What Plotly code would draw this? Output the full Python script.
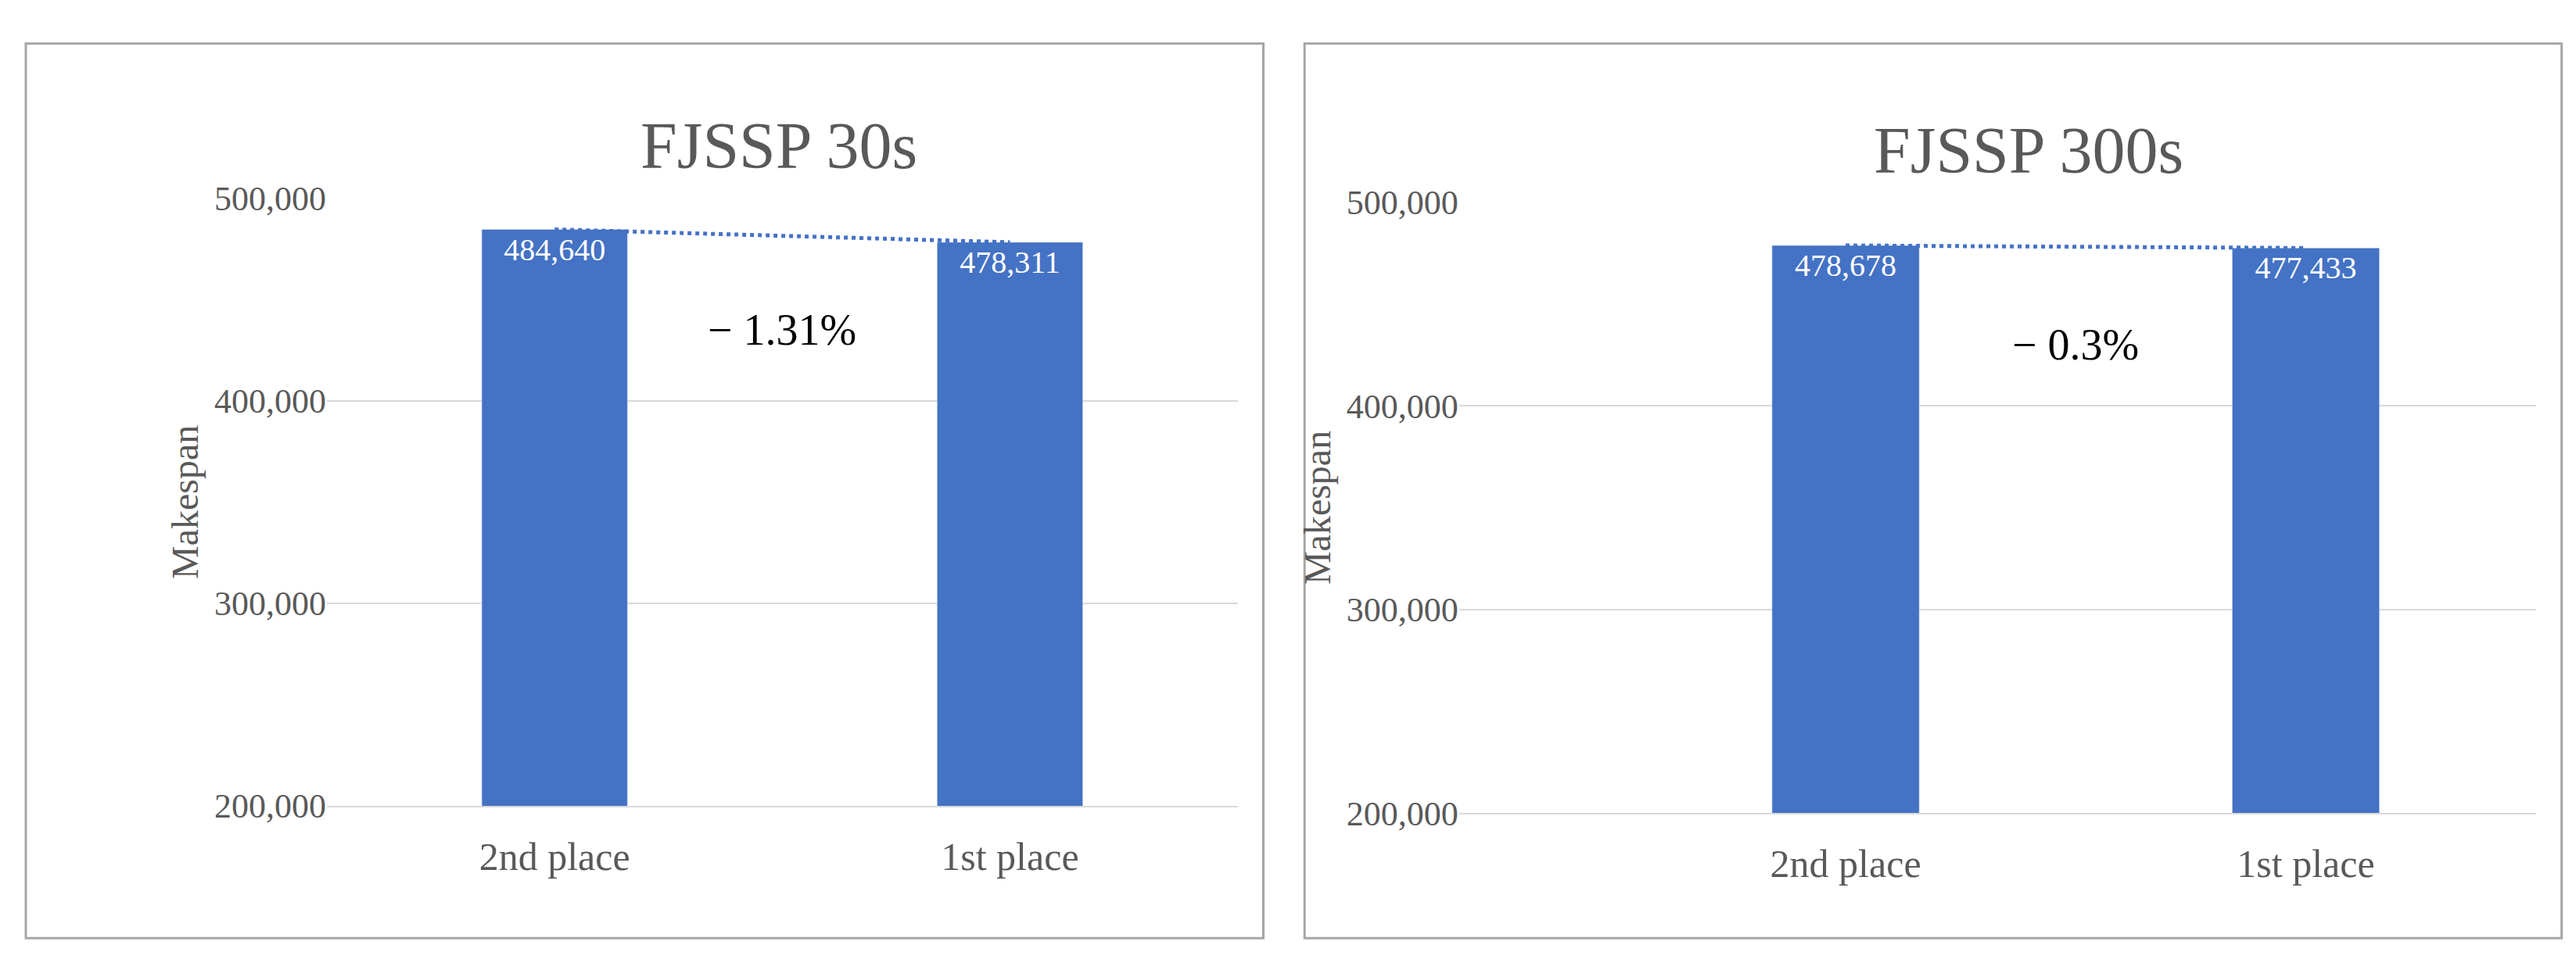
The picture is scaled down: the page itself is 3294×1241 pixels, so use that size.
import plotly.graph_objects as go
from plotly.subplots import make_subplots

categories = ["2nd place", "1st place"]
makespan_30s = [484640, 478311]
makespan_300s = [478678, 477433]
titles = ["FJSSP 30s", "FJSSP 300s"]
gaps = ["\u2212 1.31%", "\u2212 0.3%"]

serif = "Liberation Serif"
blue = "#4472C4"
grey = "#595959"

fig = make_subplots(rows=1, cols=2)

for i, vals in enumerate([makespan_30s, makespan_300s], start=1):
    fig.add_trace(go.Bar(
        x=categories, y=vals, marker_color=blue, width=0.32,
        text=[f"{v:,}" for v in vals], textposition="inside",
        insidetextanchor="end", textangle=0,
        textfont=dict(family=serif, size=40, color="white"),
        showlegend=False,
    ), row=1, col=i)
    fig.add_trace(go.Scatter(
        x=categories, y=vals, mode="lines",
        line=dict(color=blue, width=5, dash="dot"),
        showlegend=False,
    ), row=1, col=i)

fig.update_layout(
    width=3294, height=1241,
    margin=dict(l=0, r=0, t=0, b=0),
    paper_bgcolor="white", plot_bgcolor="white",
    font=dict(family=serif, color=grey),
    xaxis=dict(domain=[0.1245, 0.478], range=[-0.5, 1.5]),
    xaxis2=dict(domain=[0.564, 0.982], range=[-0.84, 1.5]),
    yaxis=dict(domain=[0.162, 0.814]),
    yaxis2=dict(domain=[0.154, 0.81]),
)
fig.update_xaxes(showgrid=False, showline=True, linecolor="#d9d9d9", linewidth=2,
                 tickfont=dict(family=serif, size=50, color=grey), ticks="", ticklabelstandoff=20)
fig.update_yaxes(range=[200000, 500000], tickvals=[200000, 300000, 400000, 500000],
                 tickformat=",", showgrid=True, gridcolor="#d9d9d9", gridwidth=2,
                 zeroline=False, tickfont=dict(family=serif, size=44, color=grey),
                 title=dict(text="Makespan", font=dict(family=serif, size=48, color=grey), standoff=5))

# panel borders
for x0, x1 in [(0.0076, 0.488), (0.504, 0.992)]:
    fig.add_shape(type="rect", xref="paper", yref="paper", x0=x0, x1=x1, y0=0.02, y1=0.98,
                  line=dict(color="#a6a6a6", width=3))

fig.add_annotation(text=titles[0], xref="paper", yref="paper", x=0.3, y=0.87,
                   xanchor="center", yanchor="middle",
                   showarrow=False, font=dict(family=serif, size=84, color=grey))
fig.add_annotation(text=titles[1], xref="paper", yref="paper", x=0.785, y=0.865,
                   xanchor="center", yanchor="middle",
                   showarrow=False, font=dict(family=serif, size=84, color=grey))
fig.add_annotation(text=gaps[0], xref="x", yref="y", x=0.5, y=435000,
                   showarrow=False, font=dict(family=serif, size=56, color="black"))
fig.add_annotation(text=gaps[1], xref="x2", yref="y2", x=0.5, y=430000,
                   showarrow=False, font=dict(family=serif, size=56, color="black"))

fig.write_html("out.html")
